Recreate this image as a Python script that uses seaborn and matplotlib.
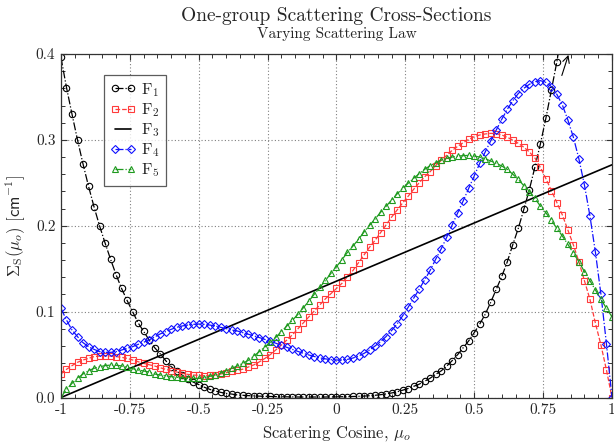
import numpy as np
import pandas as pd
import matplotlib
matplotlib.use("Agg")
import matplotlib.pyplot as plt
from matplotlib.ticker import MultipleLocator
import seaborn as sns

# ---------------- data ----------------
mu = np.round(np.linspace(-1.0, 1.0, 101), 2)

F1 = [0.396, 0.361, 0.330, 0.300, 0.272, 0.246, 0.222, 0.200, 0.180, 0.161,
      0.143, 0.127, 0.113, 0.100, 0.087, 0.077, 0.067, 0.058, 0.051, 0.043,
      0.036, 0.031, 0.026, 0.022, 0.018, 0.015, 0.012, 0.0095, 0.0076, 0.006,
      0.0048, 0.004, 0.003, 0.0026, 0.0022, 0.0019, 0.0016, 0.0014, 0.0012, 0.0010,
      0.0009, 0.0008, 0.0007, 0.0006, 0.0006, 0.0006, 0.0006, 0.0006, 0.0006, 0.0007,
      0.0008, 0.0009, 0.0010, 0.0012, 0.0014, 0.0017, 0.0021, 0.0026, 0.0033, 0.0042,
      0.0053, 0.0066, 0.0085, 0.0105, 0.013, 0.0155, 0.019, 0.0225, 0.027, 0.031,
      0.0365, 0.043, 0.050, 0.058, 0.066, 0.0755, 0.0856, 0.097, 0.111, 0.126,
      0.141, 0.158, 0.178, 0.197, 0.219, 0.242, 0.268, 0.295, 0.325, 0.358,
      0.391, 0.43, np.nan, np.nan, np.nan, np.nan, np.nan, np.nan, np.nan, np.nan,
      np.nan]

F2 = [0.0274, 0.0328, 0.0371, 0.041, 0.0437, 0.0456, 0.0476, 0.0483, 0.0487, 0.0483,
      0.0476, 0.0468, 0.0456, 0.0437, 0.0417, 0.0398, 0.0382, 0.0367, 0.0347, 0.0328,
      0.0312, 0.0297, 0.0281, 0.027, 0.0262, 0.0258, 0.0254, 0.0258, 0.0262, 0.0274,
      0.0289, 0.0305, 0.0315, 0.033, 0.0355, 0.038, 0.0415, 0.0455, 0.050, 0.0555,
      0.061, 0.067, 0.073, 0.080, 0.087, 0.094, 0.101, 0.108, 0.115, 0.121,
      0.127, 0.133, 0.1407, 0.148, 0.157, 0.166, 0.175, 0.183, 0.192, 0.201,
      0.210, 0.2183, 0.2265, 0.2343, 0.2424, 0.250, 0.257, 0.263, 0.27, 0.276,
      0.282, 0.2878, 0.2925, 0.2968, 0.3006, 0.3037, 0.3057, 0.3069, 0.3076, 0.3072,
      0.3057, 0.303, 0.2999, 0.296, 0.2915, 0.286, 0.279, 0.268, 0.255, 0.241,
      0.227, 0.2125, 0.195, 0.1776, 0.158, 0.136, 0.1144, 0.0864, 0.0611, 0.032,
      0.0]

F3_mu = [-1.0, 1.0]
F3 = [0.0, 0.271]

F4 = [0.1038, 0.0903, 0.0786, 0.0709, 0.0639, 0.0592, 0.0561, 0.0534, 0.0526, 0.0526,
      0.0534, 0.0553, 0.0573, 0.0592, 0.0619, 0.0643, 0.067, 0.0705, 0.074, 0.0767,
      0.0794, 0.0817, 0.0833, 0.0844, 0.0852, 0.0856, 0.0852, 0.0844, 0.0833, 0.0817,
      0.0802, 0.0786, 0.0775, 0.0755, 0.0737, 0.0718, 0.0698, 0.0677, 0.0655, 0.0632,
      0.0608, 0.0584, 0.056, 0.0537, 0.0515, 0.0495, 0.0477, 0.0462, 0.045, 0.0441,
      0.0437, 0.0437, 0.0444, 0.046, 0.0483, 0.0514, 0.0553, 0.060, 0.065, 0.071,
      0.078, 0.0856, 0.095, 0.105, 0.1155, 0.126, 0.137, 0.148, 0.161, 0.173,
      0.1865, 0.201, 0.215, 0.229, 0.2436, 0.258, 0.2727, 0.286, 0.299, 0.3115,
      0.324, 0.3356, 0.3456, 0.354, 0.360, 0.3647, 0.3678, 0.369, 0.367, 0.362,
      0.353, 0.3406, 0.3231, 0.303, 0.2778, 0.2475, 0.2114, 0.169, 0.120, 0.0623,
      0.0]

F5 = [0.0, 0.0095, 0.0165, 0.0223, 0.0274, 0.0312, 0.034, 0.0359, 0.0371, 0.0378,
      0.0376, 0.0368, 0.0351, 0.0336, 0.032, 0.0309, 0.0297, 0.0274, 0.0262, 0.0254,
      0.0243, 0.0235, 0.0231, 0.0223, 0.0223, 0.0223, 0.0231, 0.0246, 0.0262, 0.0285,
      0.0312, 0.034, 0.0367, 0.0398, 0.0433, 0.0483, 0.0534, 0.0588, 0.0643, 0.0701,
      0.0767, 0.0833, 0.0899, 0.0969, 0.1046, 0.1124, 0.1205, 0.1283, 0.1364, 0.1446,
      0.1524, 0.1605, 0.1691, 0.1764, 0.1842, 0.1927, 0.2005, 0.2079, 0.2156, 0.2226,
      0.23, 0.237, 0.2436, 0.2494, 0.2552, 0.2606, 0.2657, 0.27, 0.2735, 0.2766,
      0.2785, 0.28, 0.2812, 0.2816, 0.282, 0.2812, 0.28, 0.2781, 0.2754, 0.2727,
      0.2696, 0.2657, 0.26, 0.254, 0.2467, 0.2397, 0.2319, 0.223, 0.2152, 0.2063,
      0.197, 0.188, 0.1783, 0.1679, 0.1582, 0.1465, 0.136, 0.1252, 0.1143, 0.1038,
      0.0941]

x_ticks = [-1, -0.75, -0.5, -0.25, 0, 0.25, 0.5, 0.75, 1]
x_tick_labels = ["-1", "-0.75", "-0.5", "-0.25", "0", "0.25", "0.5", "0.75", "1"]
y_ticks = [0.0, 0.1, 0.2, 0.3, 0.4]
y_tick_labels = ["0.0", "0.1", "0.2", "0.3", "0.4"]

arrow_tail = (0.818, 0.375)
arrow_head = (0.842, 0.399)

# ---------------- style ----------------
sns.set_theme(style="ticks")
plt.rcParams.update({
    "font.family": ["cmr10", "DejaVu Serif"],
    "mathtext.fontset": "cm",
    "axes.formatter.use_mathtext": True,
    "axes.unicode_minus": False,
    "xtick.direction": "in",
    "ytick.direction": "in",
    "xtick.top": True,
    "ytick.right": True,
    "axes.edgecolor": "#333333",
    "axes.linewidth": 0.9,
})

fig = plt.figure(figsize=(6.14, 4.46), dpi=100)
ax = fig.add_axes([0.0993, 0.1087, 0.8974, 0.7702])

red = "#ff3b3b"
blue = "#1010ff"
green = "#1f9a1f"

series = [
    ("F$_1$", mu, F1, "black", "o", "-.", 4.6),
    ("F$_2$", mu, F2, red, "s", "--", 4.4),
    ("F$_3$", F3_mu, F3, "black", None, "-", 0),
    ("F$_4$", mu, F4, blue, "D", "-.", 3.6),
    ("F$_5$", mu, F5, green, "^", "-.", 4.6),
]

for label, xs, ys, col, mk, ls, ms in series:
    df = pd.DataFrame({"mu": xs, "val": ys}).dropna()
    kw = dict(color=col, linestyle=ls, linewidth=0.9, label=label)
    if mk is not None:
        kw.update(marker=mk, markersize=ms, markerfacecolor="none",
                  markeredgecolor=col, markeredgewidth=0.8)
    else:
        kw.update(linewidth=1.2)
    sns.lineplot(data=df, x="mu", y="val", ax=ax, estimator=None, sort=False, **kw)

ax.annotate("", xy=arrow_head, xytext=arrow_tail,
            arrowprops=dict(arrowstyle="->", color="black", lw=0.8,
                            shrinkA=0, shrinkB=0))

ax.set_xlim(-1, 1)
ax.set_ylim(0, 0.4)
ax.set_xticks(x_ticks)
ax.set_xticklabels(x_tick_labels, fontsize=11)
ax.set_yticks(y_ticks)
ax.set_yticklabels(y_tick_labels, fontsize=11)
ax.xaxis.set_minor_locator(MultipleLocator(0.05))
ax.yaxis.set_minor_locator(MultipleLocator(0.02))
ax.tick_params(which="major", length=4.5, width=0.8, color="#333333", pad=4)
ax.tick_params(which="minor", length=3, width=0.7, color="#333333", top=True, right=True,
               direction="in")
ax.grid(True, which="major", linestyle=(0, (1, 2)), color="#808080", linewidth=0.8)

ax.set_xlabel(r"Scatering Cosine, $\mu_o$", fontsize=12, labelpad=5)
ax.set_ylabel(r"$\Sigma_{\rm S}(\mu_o)$ $\mathsf{[cm^{-1}]}$", fontsize=12, labelpad=6)

fig.text(0.548, 0.965, "One-group Scattering Cross-Sections", ha="center", va="center",
         fontsize=14)
fig.text(0.548, 0.924, "Varying Scattering Law", ha="center", va="center", fontsize=11)

leg = ax.legend(loc="upper left", bbox_to_anchor=(0.078, 0.94), numpoints=2,
                handlelength=1.6, handletextpad=0.35, borderpad=0.4,
                labelspacing=0.15, fontsize=11.5, frameon=True, fancybox=False,
                borderaxespad=0)
leg.get_frame().set_edgecolor("#333333")
leg.get_frame().set_linewidth(0.9)

fig.savefig("out.png", dpi=100)
